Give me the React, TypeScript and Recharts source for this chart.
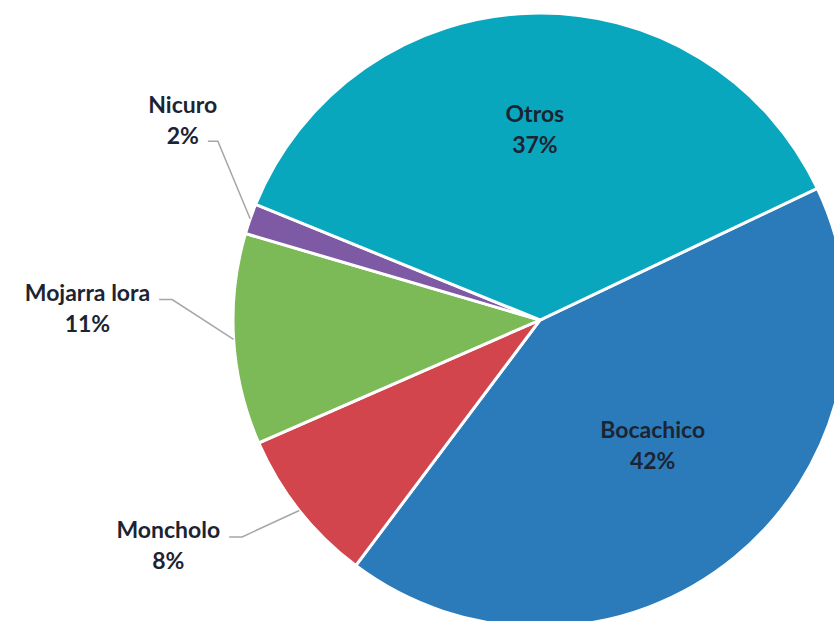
import React from "react";
import { PieChart, Pie, Cell } from "recharts";

const species = ["Bocachico", "Moncholo", "Mojarra lora", "Nicuro", "Otros"];
const shares = [42.3, 8.2, 11.1, 1.6, 36.8];
const colors = ["#2b7bba", "#d2454c", "#7cb957", "#7e5aa4", "#08a7bd"];

const data = species.map((name, i) => ({ name, value: shares[i] }));

const RAD = Math.PI / 180;
const FONT_SIZE = 23;
const FONT = `bold ${FONT_SIZE}px Lato`;

let ctx: CanvasRenderingContext2D | null = null;
function textWidth(s: string) {
  if (!ctx) ctx = document.createElement("canvas").getContext("2d");
  if (!ctx) return s.length * 11;
  ctx.font = FONT;
  return ctx.measureText(s).width;
}

const polar = (cx: number, cy: number, r: number, deg: number) => [
  cx + r * Math.cos(-deg * RAD),
  cy + r * Math.sin(-deg * RAD),
];

// big slices get the label inside, small ones get a leader line out to the left
function renderLabel(props: any) {
  const { cx, cy, outerRadius, percent, name } = props;
  const mid = ((props.midAngle % 360) + 360) % 360;
  const pct = Math.round(percent * 100) + "%";
  const textStyle = { fontFamily: "Lato", fontWeight: 700, fontSize: FONT_SIZE, fill: "#1c2433" };

  if (percent > 0.2) {
    const [x, y0] = polar(cx, cy, outerRadius * 0.58, mid);
    const y = y0 - 14;
    return (
      <g>
        <text x={x} y={y - 15} textAnchor="middle" dominantBaseline="central" style={textStyle}>{name}</text>
        <text x={x} y={y + 16} textAnchor="middle" dominantBaseline="central" style={textStyle}>{pct}</text>
      </g>
    );
  }

  const [ex, ey] = polar(cx, cy, outerRadius, mid);
  // elbow sits a bit outside the pie, pulled slightly up the further it is from the bottom
  const [kx, ky] = polar(cx, cy, outerRadius * 1.2, mid - (236 - mid) * 0.13);
  const upper = mid < 170;
  const hx = kx - (upper ? 10 : 13);
  const attached = upper ? pct : name;
  const tx = hx - 9 - textWidth(attached) / 2;
  const nameY = upper ? ky - 37 : ky - 8;
  return (
    <g>
      <polyline points={`${ex},${ey} ${kx},${ky} ${hx},${ky}`} fill="none" stroke="#a6a6a6" strokeWidth={1.5} />
      <text x={tx} y={nameY} textAnchor="middle" dominantBaseline="central" style={textStyle}>{name}</text>
      <text x={tx} y={nameY + 31} textAnchor="middle" dominantBaseline="central" style={textStyle}>{pct}</text>
    </g>
  );
}

export default function App() {
  return (
    <div style={{ position: "absolute", left: 0, top: 0, width: 834, height: 621, background: "#fff", overflow: "hidden" }}>
      <PieChart width={834} height={621} margin={{ top: 0, right: 0, bottom: 0, left: 0 }}>
        <Pie
          data={data}
          dataKey="value"
          nameKey="name"
          cx={540}
          cy={320}
          outerRadius={307}
          startAngle={25.4}
          endAngle={25.4 - 360}
          stroke="#ffffff"
          strokeWidth={3}
          label={renderLabel}
          labelLine={false}
          isAnimationActive={false}
        >
          {data.map((d, i) => (
            <Cell key={d.name} fill={colors[i]} />
          ))}
        </Pie>
      </PieChart>
    </div>
  );
}
